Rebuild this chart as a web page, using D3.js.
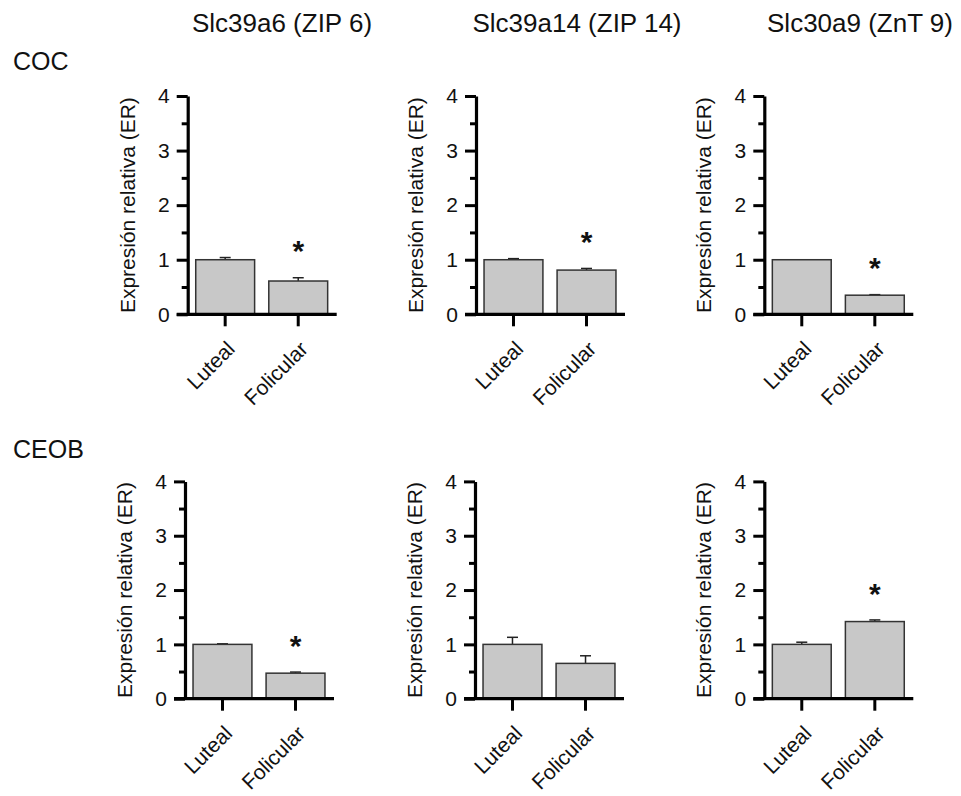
<!DOCTYPE html>
<html>
<head>
<meta charset="utf-8">
<script src="https://cdn.jsdelivr.net/npm/d3@7"></script>
<style>
  html, body { margin: 0; padding: 0; background: #fff; }
  svg { display: block; font-family: "Liberation Sans", Arial, sans-serif; }
</style>
</head>
<body>
<svg id="chart" width="961" height="796"></svg>
<script>
// ---- data ----
const genes = ["Slc39a6 (ZIP 6)", "Slc39a14 (ZIP 14)", "Slc30a9 (ZnT 9)"];
const tissues = ["COC", "CEOB"];
const phases = ["Luteal", "Folicular"];
const yTicks = [0, 1, 2, 3, 4];
const yMinorTicks = [0.5, 1.5, 2.5, 3.5];
const yLabel = "Expresión relativa (ER)";

// mean relative expression per gene: [Luteal, Folicular]
const cocMeans  = [[1.00, 0.61], [1.00, 0.81], [1.00, 0.35]];
const cocErr    = [[0.04, 0.06], [0.02, 0.03], [0.00, 0.01]];
const cocSig    = [true, true, true];
const ceobMeans = [[1.00, 0.47], [1.00, 0.65], [1.00, 1.42]];
const ceobErr   = [[0.01, 0.02], [0.13, 0.14], [0.04, 0.03]];
const ceobSig   = [true, false, true];

const means = [cocMeans, ceobMeans];
const errs = [cocErr, ceobErr];
const sigs = [cocSig, ceobSig];

// ---- layout ----
const svg = d3.select("#chart");
const axisX = [[187.7, 476, 764.3], [185, 475, 764.3]];
const rowTop = [96, 481.4];
const rowBottom = [314.3, 698.7];
const plotW = 148;
const titleX = [282, 577, 860];
const rowLabelY = [70, 458];
const fontMain = 21;

genes.forEach((g, i) => {
  svg.append("text")
    .attr("x", titleX[i]).attr("y", 32)
    .attr("text-anchor", "middle")
    .attr("font-size", 26)
    .attr("fill", "#111")
    .text(g);
});

tissues.forEach((t, r) => {
  svg.append("text")
    .attr("x", 13).attr("y", rowLabelY[r])
    .attr("font-size", 25)
    .attr("fill", "#111")
    .text(t);
});

tissues.forEach((t, r) => {
  genes.forEach((g, i) => {
    const ox = axisX[r][i];
    const y = d3.scaleLinear().domain([0, 4]).range([rowBottom[r], rowTop[r]]);
    const x = d3.scaleBand().domain(phases).range([ox, ox + plotW])
      .paddingInner(0.194).paddingOuter(0.11);

    const gp = svg.append("g");

    const data = phases.map((p, k) => ({ p, v: means[r][i][k], e: errs[r][i][k] }));

    // error bars (upper only)
    data.forEach(d => {
      const cx = x(d.p) + x.bandwidth() / 2;
      if (d.e > 0) {
        gp.append("line")
          .attr("x1", cx).attr("x2", cx)
          .attr("y1", y(d.v)).attr("y2", y(d.v + d.e))
          .attr("stroke", "#222").attr("stroke-width", 1.5);
      }
      gp.append("line")
        .attr("x1", cx - 5.5).attr("x2", cx + 5.5)
        .attr("y1", y(d.v + d.e)).attr("y2", y(d.v + d.e))
        .attr("stroke", "#222").attr("stroke-width", 1.5);
    });

    gp.selectAll("rect.bar").data(data).enter().append("rect")
      .attr("class", "bar")
      .attr("x", d => x(d.p))
      .attr("y", d => y(d.v))
      .attr("width", x.bandwidth())
      .attr("height", d => y(0) - y(d.v))
      .attr("fill", "#c8c8c8")
      .attr("stroke", "#333")
      .attr("stroke-width", 1.5);

    // significance star over Folicular
    if (sigs[r][i]) {
      const d = data[1];
      gp.append("text")
        .attr("x", x(d.p) + x.bandwidth() / 2)
        .attr("y", y(d.v + d.e + 0.7))
        .attr("dy", "0.72em")
        .attr("text-anchor", "middle")
        .attr("font-size", 30)
        .attr("font-weight", "bold")
        .attr("fill", "#111")
        .text("*");
    }

    // minor y ticks
    const minor = d3.axisLeft(y).tickValues(yMinorTicks).tickSize(6).tickFormat("").tickSizeOuter(0);
    const gMinor = gp.append("g").attr("transform", `translate(${ox},0)`).call(minor);
    gMinor.select(".domain").remove();
    gMinor.selectAll(".tick line").attr("stroke", "#000").attr("stroke-width", 3);

    // major y axis
    const major = d3.axisLeft(y).tickValues(yTicks).tickSize(11).tickPadding(7).tickSizeOuter(0)
      .tickFormat(d3.format("d"));
    const gY = gp.append("g").attr("transform", `translate(${ox},0)`).call(major);
    gY.select(".domain").attr("stroke", "#000").attr("stroke-width", 3.2);
    gY.selectAll(".tick line").attr("stroke", "#000").attr("stroke-width", 3);
    gY.selectAll(".tick text").attr("font-size", fontMain).attr("fill", "#111")
      .attr("font-family", "Liberation Sans, Arial, sans-serif");

    // x axis
    const xa = d3.axisBottom(x).tickSize(12).tickSizeOuter(0).tickFormat("");
    const gX = gp.append("g").attr("transform", `translate(0,${y(0)})`).call(xa);
    gX.select(".domain").remove();
    gX.selectAll(".tick line").attr("stroke", "#000").attr("stroke-width", 3);
    gp.append("line")
      .attr("x1", ox - 11).attr("x2", ox + plotW + 1)
      .attr("y1", y(0)).attr("y2", y(0))
      .attr("stroke", "#000").attr("stroke-width", 3.2);

    // rotated category labels
    phases.forEach(p => {
      const cx = x(p) + x.bandwidth() / 2 + 11;
      const cy = y(0) + 36;
      gp.append("text")
        .attr("transform", `translate(${cx},${cy}) rotate(-45)`)
        .attr("text-anchor", "end")
        .attr("font-size", fontMain)
        .attr("fill", "#111")
        .text(p);
    });

    // y axis label
    gp.append("text")
      .attr("transform", `translate(${ox - 53},${(y(0) + y(4)) / 2}) rotate(-90)`)
      .attr("text-anchor", "middle")
      .attr("font-size", fontMain)
      .attr("fill", "#111")
      .text(yLabel);
  });
});
</script>
</body>
</html>
